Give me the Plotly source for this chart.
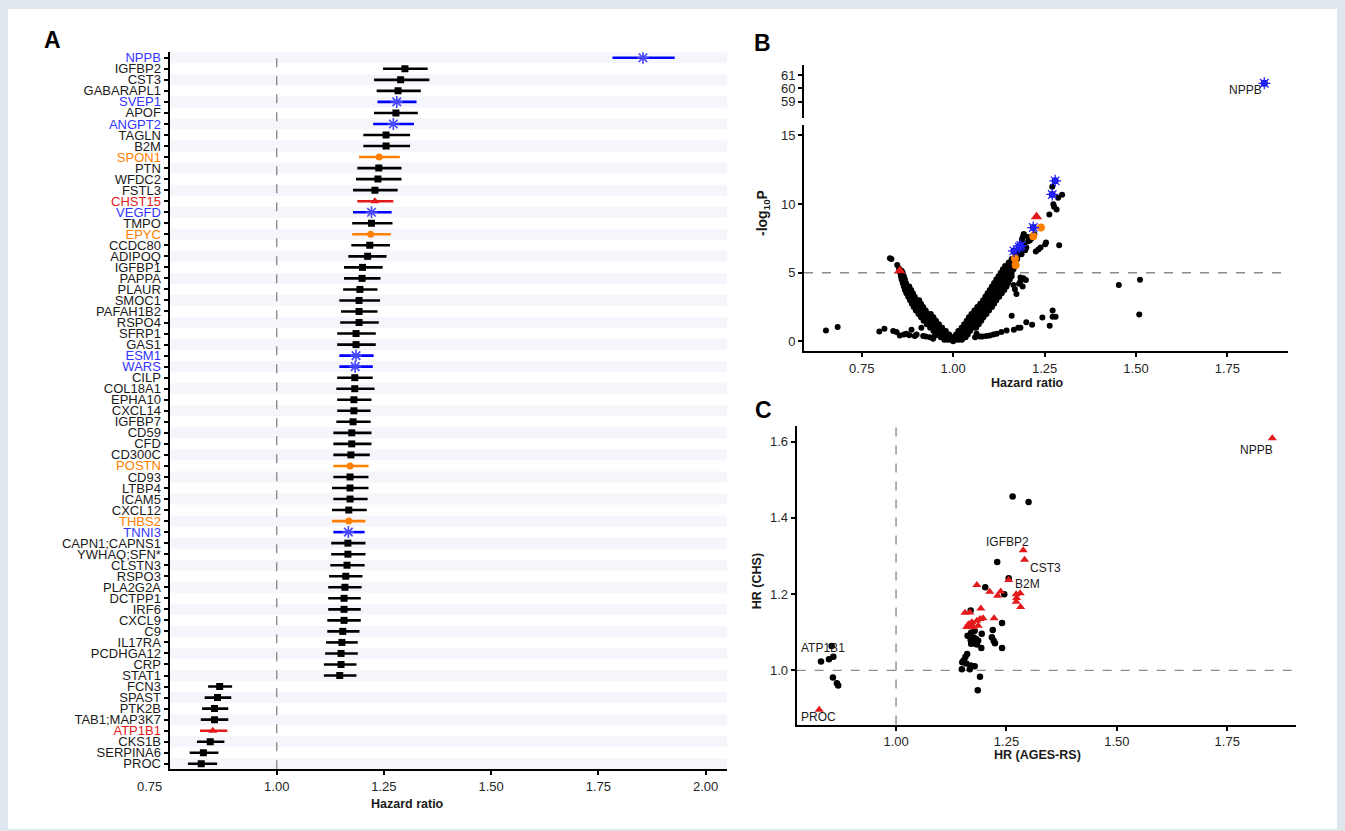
import plotly.graph_objects as go

# ---------------- panel A: hazard ratios with 95% CI ----------------
A_PROTEINS = [
    "NPPB", "IGFBP2", "CST3", "GABARAPL1", "SVEP1", "APOF", "ANGPT2", "TAGLN", "B2M", "SPON1",
    "PTN", "WFDC2", "FSTL3", "CHST15", "VEGFD", "TMPO", "EPYC", "CCDC80", "ADIPOQ", "IGFBP1",
    "PAPPA", "PLAUR", "SMOC1", "PAFAH1B2", "RSPO4", "SFRP1", "GAS1", "ESM1", "WARS", "CILP",
    "COL18A1", "EPHA10", "CXCL14", "IGFBP7", "CD59", "CFD", "CD300C", "POSTN", "CD93", "LTBP4",
    "ICAM5", "CXCL12", "THBS2", "TNNI3", "CAPN1;CAPNS1", "YWHAQ;SFN*", "CLSTN3", "RSPO3", "PLA2G2A", "DCTPP1",
    "IRF6", "CXCL9", "C9", "IL17RA", "PCDHGA12", "CRP", "STAT1", "FCN3", "SPAST", "PTK2B",
    "TAB1;MAP3K7", "ATP1B1", "CKS1B", "SERPINA6", "PROC",
]
A_HR = [
    1.854, 1.299, 1.289, 1.283, 1.280, 1.278, 1.272, 1.255, 1.255, 1.239,
    1.238, 1.236, 1.229, 1.229, 1.221, 1.221, 1.219, 1.217, 1.212, 1.200,
    1.199, 1.194, 1.192, 1.192, 1.192, 1.185, 1.185, 1.185, 1.183, 1.182,
    1.182, 1.180, 1.180, 1.178, 1.175, 1.175, 1.173, 1.171, 1.171, 1.171,
    1.171, 1.168, 1.168, 1.167, 1.166, 1.166, 1.164, 1.161, 1.159, 1.157,
    1.157, 1.157, 1.154, 1.152, 1.150, 1.150, 1.147, 0.867, 0.862, 0.855,
    0.855, 0.851, 0.845, 0.829, 0.824,
]
A_LO = [
    1.783, 1.248, 1.227, 1.233, 1.235, 1.227, 1.225, 1.202, 1.202, 1.192,
    1.188, 1.185, 1.178, 1.188, 1.178, 1.176, 1.176, 1.174, 1.167, 1.157,
    1.157, 1.155, 1.146, 1.150, 1.148, 1.141, 1.141, 1.146, 1.146, 1.141,
    1.139, 1.141, 1.141, 1.139, 1.132, 1.132, 1.132, 1.132, 1.132, 1.129,
    1.132, 1.129, 1.129, 1.132, 1.127, 1.127, 1.125, 1.122, 1.120, 1.120,
    1.120, 1.118, 1.118, 1.115, 1.113, 1.110, 1.110, 0.840, 0.832, 0.826,
    0.823, 0.821, 0.814, 0.797, 0.793,
]
A_HI = [
    1.928, 1.352, 1.356, 1.336, 1.326, 1.329, 1.320, 1.311, 1.311, 1.287,
    1.291, 1.291, 1.282, 1.272, 1.268, 1.270, 1.266, 1.264, 1.256, 1.247,
    1.242, 1.235, 1.241, 1.235, 1.238, 1.231, 1.231, 1.226, 1.224, 1.224,
    1.228, 1.221, 1.219, 1.219, 1.221, 1.221, 1.217, 1.214, 1.214, 1.214,
    1.212, 1.210, 1.207, 1.205, 1.207, 1.207, 1.205, 1.200, 1.198, 1.196,
    1.196, 1.196, 1.193, 1.189, 1.189, 1.186, 1.186, 0.896, 0.894, 0.887,
    0.887, 0.885, 0.878, 0.864, 0.861,
]
# k = other, b = blue asterisk, o = orange circle, r = red triangle
A_GROUP = [
    "b", "k", "k", "k", "b", "k", "b", "k", "k", "o",
    "k", "k", "k", "r", "b", "k", "o", "k", "k", "k",
    "k", "k", "k", "k", "k", "k", "k", "b", "b", "k",
    "k", "k", "k", "k", "k", "k", "k", "o", "k", "k",
    "k", "k", "o", "b", "k", "k", "k", "k", "k", "k",
    "k", "k", "k", "k", "k", "k", "k", "k", "k", "k",
    "k", "r", "k", "k", "k",
]

# ---------------- panel B: volcano ----------------
B_HR = [
    # left arm
    0.827, 0.831, 0.847, 0.852, 0.859, 0.855, 0.862,
    0.857, 0.865, 0.859, 0.868, 0.862, 0.871,
    0.865, 0.873, 0.880, 0.868, 0.877, 0.885,
    0.872, 0.881, 0.890, 0.877, 0.886, 0.895,
    0.882, 0.891, 0.900, 0.907, 0.887, 0.896, 0.905, 0.912,
    0.892, 0.901, 0.910, 0.918, 0.898, 0.907, 0.916, 0.925,
    0.905, 0.914, 0.923, 0.932, 0.939, 0.912, 0.921, 0.930, 0.939, 0.946,
    0.919, 0.928, 0.937, 0.946, 0.953, 0.928, 0.936, 0.945, 0.954, 0.961,
    0.937, 0.945, 0.954, 0.963, 0.970, 0.946, 0.955, 0.964, 0.972, 0.980,
    0.956, 0.965, 0.974, 0.982, 0.989, 0.966, 0.975, 0.984, 0.992, 0.998,
    0.976, 0.985, 0.993, 1.000,
    # right arm
    1.000, 1.008, 1.016, 1.024,
    1.002, 1.010, 1.018, 1.026, 1.034,
    1.008, 1.016, 1.024, 1.032, 1.040,
    1.014, 1.022, 1.030, 1.038, 1.046,
    1.023, 1.031, 1.039, 1.047, 1.055, 1.063,
    1.030, 1.038, 1.046, 1.054, 1.062, 1.070,
    1.037, 1.045, 1.053, 1.061, 1.069, 1.077,
    1.043, 1.051, 1.059, 1.067, 1.075, 1.083,
    1.050, 1.058, 1.066, 1.074, 1.082, 1.091,
    1.058, 1.066, 1.074, 1.082, 1.090, 1.098,
    1.066, 1.074, 1.082, 1.090, 1.098, 1.106,
    1.074, 1.082, 1.090, 1.098, 1.106, 1.112,
    1.082, 1.090, 1.098, 1.106, 1.112, 1.118,
    1.088, 1.096, 1.104, 1.112, 1.120, 1.126,
    1.094, 1.102, 1.110, 1.118, 1.126, 1.133,
    1.100, 1.108, 1.116, 1.124, 1.132, 1.140,
    1.106, 1.114, 1.122, 1.130, 1.138, 1.146,
    1.112, 1.120, 1.128, 1.136, 1.144, 1.150,
    1.118, 1.126, 1.134, 1.142, 1.150, 1.155,
    1.124, 1.132, 1.140, 1.148, 1.155, 1.160,
    1.130, 1.138, 1.146, 1.154, 1.160,
    1.136, 1.144, 1.152, 1.160, 1.165,
    1.142, 1.150, 1.158, 1.164,
    1.152, 1.160, 1.168,
    1.160, 1.168, 1.175,
    1.170, 1.178, 1.176, 1.184, 1.183, 1.190, 1.188, 1.193,
    # scatter right of the arm
    1.184, 1.192, 1.199, 1.184, 1.169, 1.180, 1.173, 1.190, 1.165,
    1.226, 1.233, 1.239, 1.254, 1.252, 1.290, 1.263, 1.274, 1.276, 1.283,
    1.287, 1.298, 1.271, 1.193, 1.190, 1.205, 1.210, 1.214, 1.222, 1.200,
    1.187, 1.197, 1.195, 1.205,
    # low scatter
    1.160, 1.178, 1.200, 1.216, 1.244, 1.272, 1.272, 1.280, 1.264, 1.166,
    1.184, 1.146, 1.119, 1.091, 1.073, 1.100, 1.132, 1.064, 1.060, 1.080, 1.110,
    0.652, 0.684, 0.798, 0.812, 0.836, 0.845, 0.854, 0.872, 0.886, 0.900,
    0.918, 0.913, 0.936, 0.950, 0.865, 0.880, 0.895, 0.925, 0.945,
    1.453, 1.511, 1.509,
]
B_LOGP = [
    6.06, 6.00, 5.56, 5.30, 5.14, 5.00, 5.00,
    4.75, 4.75, 4.50, 4.50, 4.25, 4.25,
    4.00, 4.00, 4.00, 3.75, 3.75, 3.75,
    3.50, 3.50, 3.50, 3.25, 3.25, 3.25,
    3.00, 3.00, 3.00, 3.00, 2.75, 2.75, 2.75, 2.75,
    2.50, 2.50, 2.50, 2.50, 2.25, 2.25, 2.25, 2.25,
    2.00, 2.00, 2.00, 2.00, 2.00, 1.75, 1.75, 1.75, 1.75, 1.75,
    1.50, 1.50, 1.50, 1.50, 1.50, 1.25, 1.25, 1.25, 1.25, 1.25,
    1.00, 1.00, 1.00, 1.00, 1.00, 0.75, 0.75, 0.75, 0.75, 0.75,
    0.50, 0.50, 0.50, 0.50, 0.50, 0.30, 0.30, 0.30, 0.30, 0.30,
    0.12, 0.12, 0.12, 0.02,
    0.12, 0.12, 0.12, 0.12,
    0.30, 0.30, 0.30, 0.30, 0.30,
    0.50, 0.50, 0.50, 0.50, 0.50,
    0.75, 0.75, 0.75, 0.75, 0.75,
    1.00, 1.00, 1.00, 1.00, 1.00, 1.00,
    1.25, 1.25, 1.25, 1.25, 1.25, 1.25,
    1.50, 1.50, 1.50, 1.50, 1.50, 1.50,
    1.75, 1.75, 1.75, 1.75, 1.75, 1.75,
    2.00, 2.00, 2.00, 2.00, 2.00, 2.00,
    2.25, 2.25, 2.25, 2.25, 2.25, 2.25,
    2.50, 2.50, 2.50, 2.50, 2.50, 2.50,
    2.75, 2.75, 2.75, 2.75, 2.75, 2.75,
    3.00, 3.00, 3.00, 3.00, 3.00, 3.00,
    3.25, 3.25, 3.25, 3.25, 3.25, 3.25,
    3.50, 3.50, 3.50, 3.50, 3.50, 3.50,
    3.75, 3.75, 3.75, 3.75, 3.75, 3.75,
    4.00, 4.00, 4.00, 4.00, 4.00, 4.00,
    4.25, 4.25, 4.25, 4.25, 4.25, 4.25,
    4.50, 4.50, 4.50, 4.50, 4.50, 4.50,
    4.75, 4.75, 4.75, 4.75, 4.75, 4.75,
    5.00, 5.00, 5.00, 5.00, 5.00,
    5.25, 5.25, 5.25, 5.25, 5.25,
    5.50, 5.50, 5.50, 5.50,
    5.75, 5.75, 5.75,
    6.00, 6.00, 6.00,
    6.30, 6.30, 6.60, 6.60, 7.00, 7.00, 7.40, 7.80,
    4.66, 4.60, 4.47, 4.37, 3.80, 4.20, 3.45, 4.00, 4.10,
    6.55, 6.70, 6.84, 7.20, 7.08, 7.00, 9.25, 9.98, 9.80, 9.60,
    10.46, 10.68, 11.26, 7.80, 7.56, 7.30, 7.37, 7.50, 7.80, 6.84,
    6.35, 6.64, 7.00, 7.60,
    1.86, 0.99, 1.40, 1.21, 1.74, 2.25, 1.79, 1.79, 1.14, 0.85,
    0.99, 0.80, 0.56, 0.39, 0.36, 0.43, 0.68, 0.56, 0.30, 0.35, 0.50,
    0.80, 1.04, 0.72, 0.92, 0.75, 0.68, 0.43, 0.56, 0.85, 0.51,
    0.39, 0.99, 0.31, 0.41, 0.50, 0.45, 0.40, 0.35, 0.20,
    4.10, 4.49, 1.96,
]
B_BLUE_HR = [1.279, 1.271, 1.219, 1.185, 1.181, 1.166]
B_BLUE_LOGP = [11.69, 10.70, 8.29, 6.98, 6.88, 6.59]
B_ORANGE_HR = [1.240, 1.219, 1.169, 1.171]
B_ORANGE_LOGP = [8.29, 7.66, 6.04, 5.56]
B_RED_HR = [1.228, 0.854]
B_RED_LOGP = [9.08, 5.14]
B_NPPB = (1.851, 60.37)

# ---------------- panel C: AGES-RS vs CHS ----------------
C_RED_AGES = [1.852, 0.826, 1.288, 1.291, 1.255, 1.183, 1.212, 1.230, 1.237, 1.272,
              1.281, 1.273, 1.272, 1.282, 1.156, 1.167, 1.192, 1.222, 1.197, 1.190,
              1.183, 1.172, 1.164, 1.167, 1.160, 1.175, 1.186, 1.169]
C_RED_CHS = [1.609, 0.897, 1.315, 1.290, 1.237, 1.224, 1.206, 1.196, 1.207, 1.200,
             1.202, 1.190, 1.180, 1.166, 1.151, 1.152, 1.162, 1.137, 1.137, 1.135,
             1.130, 1.126, 1.121, 1.115, 1.114, 1.113, 1.117, 1.123]
C_BLACK_AGES = [1.264, 1.300, 1.229, 1.255, 1.202, 1.245, 1.169, 1.240, 1.219, 1.217,
                1.221, 1.224, 1.240, 1.193, 1.194, 1.162, 1.169, 1.176, 1.181, 1.186,
                1.170, 1.178, 1.170, 1.183, 1.176, 1.161, 1.157, 1.153, 1.150, 1.159,
                1.169, 1.149, 1.167, 1.178, 1.190, 1.185, 0.830, 0.848, 0.858, 0.854,
                0.857, 0.866, 0.869]
C_BLACK_CHS = [1.456, 1.442, 1.284, 1.242, 1.218, 1.200, 1.157, 1.124, 1.106, 1.087,
               1.078, 1.071, 1.059, 1.059, 1.096, 1.091, 1.080, 1.071, 1.082, 1.078,
               1.070, 1.104, 1.099, 1.068, 1.086, 1.043, 1.035, 1.026, 1.021, 1.018,
               1.013, 1.003, 1.003, 1.011, 0.983, 0.948, 1.023, 1.029, 1.036, 1.064,
               0.981, 0.966, 0.960]
# label -> (ages, chs) of the labelled point
C_LABELS = {
    "NPPB": (1.852, 1.609), "PROC": (0.826, 0.897), "IGFBP2": (1.288, 1.315),
    "CST3": (1.291, 1.290), "B2M": (1.255, 1.237), "ATP1B1": (0.854, 1.064),
}
C_LABEL_SHIFT = {"NPPB": (-16, -12), "PROC": (-1, -7), "IGFBP2": (-16, 8),
                 "CST3": (21, -8), "B2M": (19, -4), "ATP1B1": (-9, -2)}

# ---------------- styling ----------------
W, H = 1345, 831
FONT = "Liberation Sans, Arial, sans-serif"
TICK_COLOR = "#262626"
STYLE = {
    "k": dict(line="black", marker="black", symbol="square", size=7, text="#1a1a1a"),
    "b": dict(line="#0000ff", marker="#4747ff", symbol="asterisk-open", size=10, text="#3333ff"),
    "o": dict(line="#ff8000", marker="#ff8000", symbol="circle", size=7, text="#ff8000"),
    "r": dict(line="#e31a1c", marker="#e31a1c", symbol="triangle-up", size=8, text="#e31a1c"),
}


def px(x):
    return x / W


def py(y):
    return 1 - y / H


fig = go.Figure()

# panel A traces
n = len(A_PROTEINS)
for g, st in STYLE.items():
    idx = [i for i in range(n) if A_GROUP[i] == g]
    if g == "b":
        marker = dict(symbol=st["symbol"], size=st["size"], color=st["marker"],
                      line=dict(color=st["marker"], width=1.6))
    else:
        marker = dict(symbol=st["symbol"], size=st["size"], color=st["marker"], line=dict(width=0))
    fig.add_trace(go.Scatter(
        x=[A_HR[i] for i in idx], y=idx, mode="markers", marker=marker,
        error_x=dict(type="data", symmetric=False,
                     array=[A_HI[i] - A_HR[i] for i in idx],
                     arrayminus=[A_HR[i] - A_LO[i] for i in idx],
                     color=st["line"], thickness=2.6, width=0),
        xaxis="x", yaxis="y", showlegend=False, hoverinfo="skip"))

# panel B traces
fig.add_trace(go.Scatter(x=B_HR, y=B_LOGP, mode="markers",
                         marker=dict(color="black", size=6, line=dict(width=0)),
                         xaxis="x3", yaxis="y3", showlegend=False))
fig.add_trace(go.Scatter(x=B_ORANGE_HR, y=B_ORANGE_LOGP, mode="markers",
                         marker=dict(color="#ff8000", size=8, line=dict(width=0)),
                         xaxis="x3", yaxis="y3", showlegend=False))
fig.add_trace(go.Scatter(x=B_RED_HR, y=B_RED_LOGP, mode="markers",
                         marker=dict(color="#e31a1c", symbol="triangle-up", size=10, line=dict(width=0)),
                         xaxis="x3", yaxis="y3", showlegend=False))
for xa, ya, xs, ys in [("x3", "y3", B_BLUE_HR, B_BLUE_LOGP), ("x2", "y2", [B_NPPB[0]], [B_NPPB[1]])]:
    fig.add_trace(go.Scatter(x=xs, y=ys, mode="markers",
                             marker=dict(color="#0a0ab4", size=7, line=dict(width=0)),
                             xaxis=xa, yaxis=ya, showlegend=False))
    fig.add_trace(go.Scatter(x=xs, y=ys, mode="markers",
                             marker=dict(symbol="asterisk-open", size=10, color="#2323ff",
                                         line=dict(color="#2323ff", width=1.3)),
                             xaxis=xa, yaxis=ya, showlegend=False))

# panel C traces
fig.add_trace(go.Scatter(x=C_BLACK_AGES, y=C_BLACK_CHS, mode="markers",
                         marker=dict(color="black", size=6.5, line=dict(width=0)),
                         xaxis="x4", yaxis="y4", showlegend=False))
fig.add_trace(go.Scatter(x=C_RED_AGES, y=C_RED_CHS, mode="markers",
                         marker=dict(color="#e31a1c", symbol="triangle-up", size=8, line=dict(width=0)),
                         xaxis="x4", yaxis="y4", showlegend=False))

axis_common = dict(showline=True, linecolor="black", linewidth=2, ticks="outside", ticklen=4,
                   tickwidth=1.5, tickcolor="black", showgrid=False, zeroline=False,
                   tickfont=dict(size=13, color=TICK_COLOR, family=FONT))

ticktext_a = [f'<span style="color:{STYLE[g]["text"]}">{p}</span>' for p, g in zip(A_PROTEINS, A_GROUP)]

fig.update_layout(
    width=W, height=H, margin=dict(l=0, r=0, t=0, b=0),
    paper_bgcolor="#dee6ee", plot_bgcolor="white",
    font=dict(family=FONT, color="#1a1a1a"),
    xaxis=dict(domain=[px(169.5), px(727)], range=[0.75, 2.05], anchor="y",
               tickvals=[1.0, 1.25, 1.5, 1.75, 2.0], tickformat=".2f", **axis_common),
    yaxis=dict(domain=[py(771), py(50.5)], range=[n - 0.5, -0.5], anchor="x",
               tickvals=list(range(n)), ticktext=ticktext_a,
               **{**axis_common, "tickfont": dict(size=13, color="#1a1a1a", family=FONT)}),
    xaxis2=dict(domain=[px(804), px(1287.7)], range=[0.592, 1.915], anchor="y2", visible=False),
    yaxis2=dict(domain=[py(116.7), py(63.3)], range=[57.75, 61.75], anchor="x2",
                tickvals=[59, 60, 61], **axis_common),
    xaxis3=dict(domain=[px(804), px(1287.7)], range=[0.592, 1.915], anchor="y3",
                tickvals=[0.75, 1.0, 1.25, 1.5, 1.75], tickformat=".2f", **axis_common),
    yaxis3=dict(domain=[py(350.7), py(123.3)], range=[-0.7, 15.78], anchor="x3",
                tickvals=[0, 5, 10, 15], **axis_common),
    xaxis4=dict(domain=[px(796.7), px(1295.7)], range=[0.775, 1.905], anchor="y4",
                tickvals=[1.0, 1.25, 1.5, 1.75], tickformat=".2f", **axis_common),
    yaxis4=dict(domain=[py(726), py(425.7)], range=[0.858, 1.642], anchor="x4",
                tickvals=[1.0, 1.2, 1.4, 1.6], tickformat=".1f", **axis_common),
)

# white card behind the panels
fig.add_shape(type="rect", xref="paper", yref="paper", x0=px(8), x1=px(1337), y0=0, y1=py(7),
              fillcolor="white", line=dict(width=0), layer="below")

# alternating row stripes in A
for i in range(0, n, 2):
    fig.add_shape(type="rect", xref="x domain", yref="y", x0=0, x1=1, y0=i - 0.5, y1=i + 0.5,
                  fillcolor="#f4f6fb", line=dict(width=0), layer="below")

dash = dict(color="#8c8c8c", width=1.4, dash="dash")
fig.add_shape(type="line", xref="x", yref="y domain", x0=1, x1=1, y0=0, y1=1, line=dash, layer="below")
fig.add_shape(type="line", xref="x3 domain", yref="y3", x0=0, x1=1, y0=5, y1=5, line=dash, layer="below")
fig.add_shape(type="line", xref="x4", yref="y4 domain", x0=1, x1=1, y0=0, y1=1, line=dash, layer="below")
fig.add_shape(type="line", xref="x4 domain", yref="y4", x0=0, x1=1, y0=1, y1=1, line=dash, layer="below")


# text
def label(x, y, text, size=12.5, bold=False, angle=0, color="#1a1a1a"):
    fig.add_annotation(x=px(x), y=py(y), xref="paper", yref="paper", text=f"<b>{text}</b>" if bold else text,
                       showarrow=False, textangle=angle, xanchor="center", yanchor="middle",
                       font=dict(size=size, color=color, family=FONT))


label(52, 38, "A", size=23, bold=True, color="black")
label(762, 41, "B", size=23, bold=True, color="black")
label(763, 410, "C", size=23, bold=True, color="black")
label(149.3, 788, "0.75", size=13, color=TICK_COLOR)
label(407, 806, "Hazard ratio", bold=True)
label(1027, 383, "Hazard ratio", bold=True)
label(763, 212, "-log<sub>10</sub>P", size=14, bold=True, angle=-90)
label(1037, 757, "HR (AGES-RS)", bold=True)
label(757, 582, "HR (CHS)", bold=True, angle=-90)

fig.add_annotation(x=B_NPPB[0], y=B_NPPB[1], xref="x2", yref="y2", text="NPPB", showarrow=False,
                   xanchor="right", yanchor="middle", yshift=-7, font=dict(size=12, color="#1a1a1a"))
for name, (cx, cy) in C_LABELS.items():
    dx, dy = C_LABEL_SHIFT[name]
    fig.add_annotation(x=cx, y=cy, xref="x4", yref="y4", text=name, showarrow=False,
                       xshift=dx, yshift=dy, font=dict(size=12, color="#1a1a1a"))

# the page body has a default 8px margin; drop it so the figure sits at the window origin
fig.write_html("out.html", config={"displayModeBar": False},
               post_script="document.body.style.margin='0';")
